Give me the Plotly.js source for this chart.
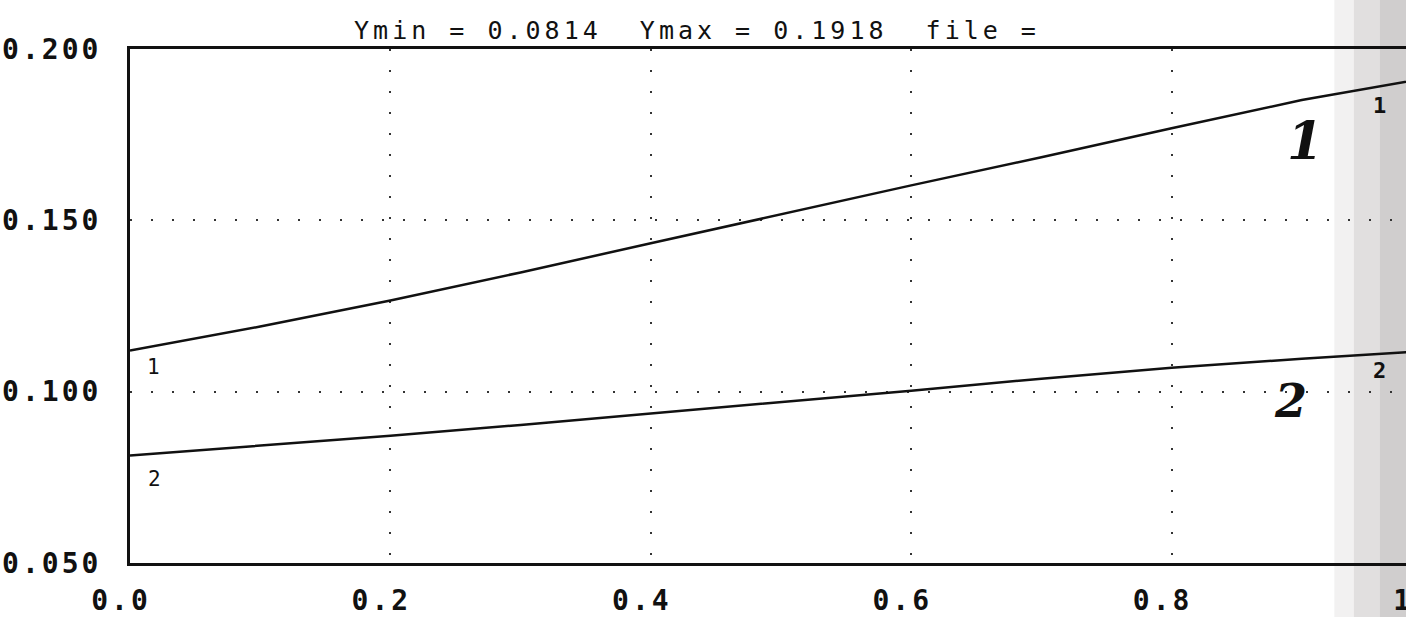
<!DOCTYPE html>
<html>
<head>
<meta charset="utf-8">
<script src="https://cdn.plot.ly/plotly-3.0.1.min.js"></script>
<style>
  html, body { margin:0; padding:0; overflow:hidden; background:#fff; }
  #chart { width:1460px; height:617px; }
  .xtick text, .ytick text { letter-spacing:3px; }
  .gtitle { letter-spacing:4px; }
</style>
</head>
<body>
<div id="chart"></div>
<script>
// ---- data ----
const xValues  = [0, 0.1, 0.2, 0.3, 0.4, 0.5, 0.6, 0.7, 0.8, 0.9, 1.0];
const curve1   = [0.1120, 0.1190, 0.1266, 0.1348, 0.1433, 0.1518, 0.1602, 0.1684, 0.1769, 0.1851, 0.1918];
const curve2   = [0.0814, 0.0842, 0.0871, 0.0903, 0.0936, 0.0971, 0.1003, 0.1038, 0.1070, 0.1096, 0.1120];
const xTickVals = [0, 0.2, 0.4, 0.6, 0.8, 1.0];
const xTickText = ["0.0", "0.2", "0.4", "0.6", "0.8", "1.0"];
const yTickVals = [0.05, 0.10, 0.15, 0.20];
const yTickText = ["0.050", "0.100", "0.150", "0.200"];
const titleText = "Ymin = 0.0814  Ymax = 0.1918  file =";
const seriesLabels = ["1", "2"];

const mono = "DejaVu Sans Mono, monospace";

const traces = [
  { x: xValues, y: curve1, mode: "lines", line: { color: "#111", width: 2.5 }, hoverinfo: "skip", showlegend: false },
  { x: xValues, y: curve2, mode: "lines", line: { color: "#111", width: 2.5 }, hoverinfo: "skip", showlegend: false }
];

const layout = {
  width: 1460, height: 617,
  margin: { l: 130, r: 28, t: 49, b: 54 },
  paper_bgcolor: "#fff", plot_bgcolor: "#fff",
  title: { text: titleText, x: 0.4774, xanchor: "center", y: 0.951, yanchor: "middle",
           font: { family: mono, size: 25, color: "#111" } },
  xaxis: {
    range: [0, 1], tickmode: "array", tickvals: xTickVals, ticktext: xTickText,
    showline: true, mirror: true, linecolor: "#111", linewidth: 3,
    showgrid: true, gridcolor: "#333", gridwidth: 2, griddash: "2px,19px",
    zeroline: false, ticks: "", ticklabelstandoff: 10, ticklabelshift: -9,
    tickfont: { family: mono, size: 28, color: "#111", weight: "bold" }
  },
  yaxis: {
    range: [0.05, 0.2], tickmode: "array", tickvals: yTickVals, ticktext: yTickText,
    showline: true, mirror: true, linecolor: "#111", linewidth: 3,
    showgrid: true, gridcolor: "#333", gridwidth: 2, griddash: "2px,19px",
    zeroline: false, ticks: "", ticklabelstandoff: 20,
    tickfont: { family: mono, size: 28, color: "#111", weight: "bold" }
  },
  shapes: [
    { type: "rect", layer: "below", xref: "x", yref: "paper", x0: 0.925, x1: 0.94, y0: -0.2, y1: 1.2,
      line: { width: 0 }, fillcolor: "rgba(190,185,185,0.2)" },
    { type: "rect", layer: "below", xref: "x", yref: "paper", x0: 0.94, x1: 0.96, y0: -0.2, y1: 1.2,
      line: { width: 0 }, fillcolor: "rgba(180,175,175,0.4)" },
    { type: "rect", layer: "below", xref: "x", yref: "paper", x0: 0.96, x1: 1.1, y0: -0.2, y1: 1.2,
      line: { width: 0 }, fillcolor: "rgba(170,165,165,0.55)" }
  ],
  annotations: [
    { x: 0.018, y: 0.1073, xref: "x", yref: "y", text: seriesLabels[0], showarrow: false,
      font: { family: mono, size: 21, color: "#111" } },
    { x: 0.019, y: 0.0746, xref: "x", yref: "y", text: seriesLabels[1], showarrow: false,
      font: { family: mono, size: 21, color: "#111" } },
    { x: 0.96, y: 0.1836, xref: "x", yref: "y", text: seriesLabels[0], showarrow: false,
      font: { family: mono, size: 22, color: "#111", weight: "bold" } },
    { x: 0.96, y: 0.1061, xref: "x", yref: "y", text: seriesLabels[1], showarrow: false,
      font: { family: mono, size: 22, color: "#111", weight: "bold" } },
    { x: 0.9025, y: 0.1734, xref: "x", yref: "y", text: seriesLabels[0], showarrow: false,
      font: { family: "DejaVu Serif, serif", size: 52, color: "#111", weight: "bold", style: "italic" } },
    { x: 0.891, y: 0.0974, xref: "x", yref: "y", text: seriesLabels[1], showarrow: false,
      font: { family: "DejaVu Serif, serif", size: 46, color: "#111", weight: "bold", style: "italic" } }
  ]
};

Plotly.newPlot("chart", traces, layout, { displayModeBar: false, staticPlot: true });
</script>
</body>
</html>
